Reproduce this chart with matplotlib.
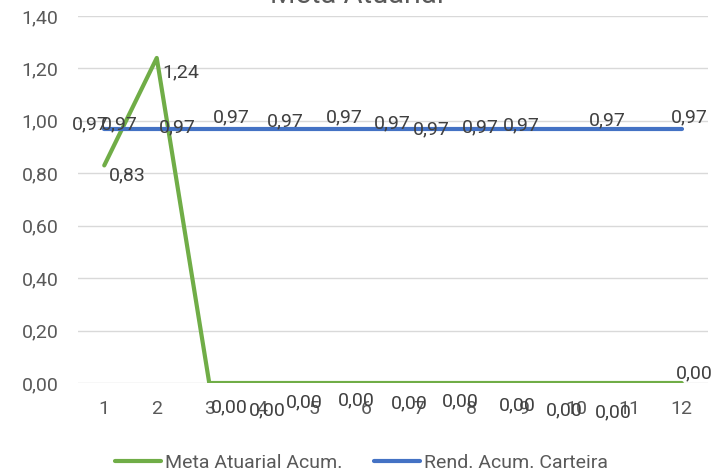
import numpy as np
import matplotlib.pyplot as plt

plt.rcParams['font.family'] = ['Roboto', 'DejaVu Sans']

# Data
months = [1, 2, 3, 4, 5, 6, 7, 8, 9, 10, 11, 12]
meta_atuarial = [0.83, 1.24, 0.00, 0.00, 0.00, 0.00, 0.00, 0.00, 0.00, 0.00, 0.00, 0.00]
rend_carteira = [0.97, 0.97, 0.97, 0.97, 0.97, 0.97, 0.97, 0.97, 0.97, 0.97, 0.97, 0.97]
yticks = [0.0, 0.2, 0.4, 0.6, 0.8, 1.0, 1.2, 1.4]

# Label offsets in pixels (Excel placed them rather loosely)
green_dx = [23, 24, 20, 6, -10, -10, -10, -11, -7, -12, -16, 13]
green_dy = [-10, -14, -24, -27, -19, -17, -20, -18, -22, -27, -29, 10]
blue_dx = [-14, -37, -32, -30, -29, -22, -27, -40, -44, -55, -22, 8]
blue_dy = [4, 4, 1, 11, 7, 11, 5, -1, 1, 3, 8, 11]

GREEN = '#70AD47'
BLUE = '#4472C4'
TXT = '#595959'
FS = 14

fig = plt.figure(figsize=(7.23, 4.74), dpi=100)
ax = fig.add_axes([78 / 723, 1 - 383 / 474, 630 / 723, 367 / 474])

x = np.array(months)
ax.plot(x, meta_atuarial, color=GREEN, lw=3, solid_capstyle='round',
        label='Meta Atuarial Acum.', zorder=3)
ax.plot(x, rend_carteira, color=BLUE, lw=3, solid_capstyle='round',
        label='Rend. Acum. Carteira', zorder=3)

def fmt(v):
    return f"{v:.2f}".replace('.', ',')

for i, v in enumerate(rend_carteira):
    ax.annotate(fmt(v), (x[i], v), xytext=(blue_dx[i], blue_dy[i]),
                textcoords='offset pixels', ha='center', va='center',
                fontsize=FS, color='#404040', zorder=4)
for i, v in enumerate(meta_atuarial):
    ax.annotate(fmt(v), (x[i], v), xytext=(green_dx[i], green_dy[i]),
                textcoords='offset pixels', ha='center', va='center',
                fontsize=FS, color='#404040', zorder=4)

ax.set_xlim(0.5, 12.5)
ax.set_ylim(0, 1.4)
ax.set_xticks(x)
ax.set_xticklabels([str(m) for m in months])
ax.set_yticks(yticks)
ax.set_yticklabels([fmt(t) for t in yticks])
ax.tick_params(length=0, labelsize=FS, colors=TXT)
ax.tick_params(axis='x', pad=12)
ax.tick_params(axis='y', pad=14)
ax.grid(axis='y', color='#D9D9D9', lw=1)
ax.set_axisbelow(True)
for s in ax.spines.values():
    s.set_visible(False)

fig.text(357 / 723, 1 - 3 / 474, 'Meta Atuarial', ha='center', va='baseline',
         fontsize=21, color=TXT)

fig.legend(loc='lower center', bbox_to_anchor=(0.5, -0.012), ncol=2, frameon=False,
           fontsize=FS, handlelength=2.4, handletextpad=0.2, columnspacing=1.6,
           labelcolor=TXT, borderaxespad=0.0)

fig.savefig('out.png', dpi=100)
